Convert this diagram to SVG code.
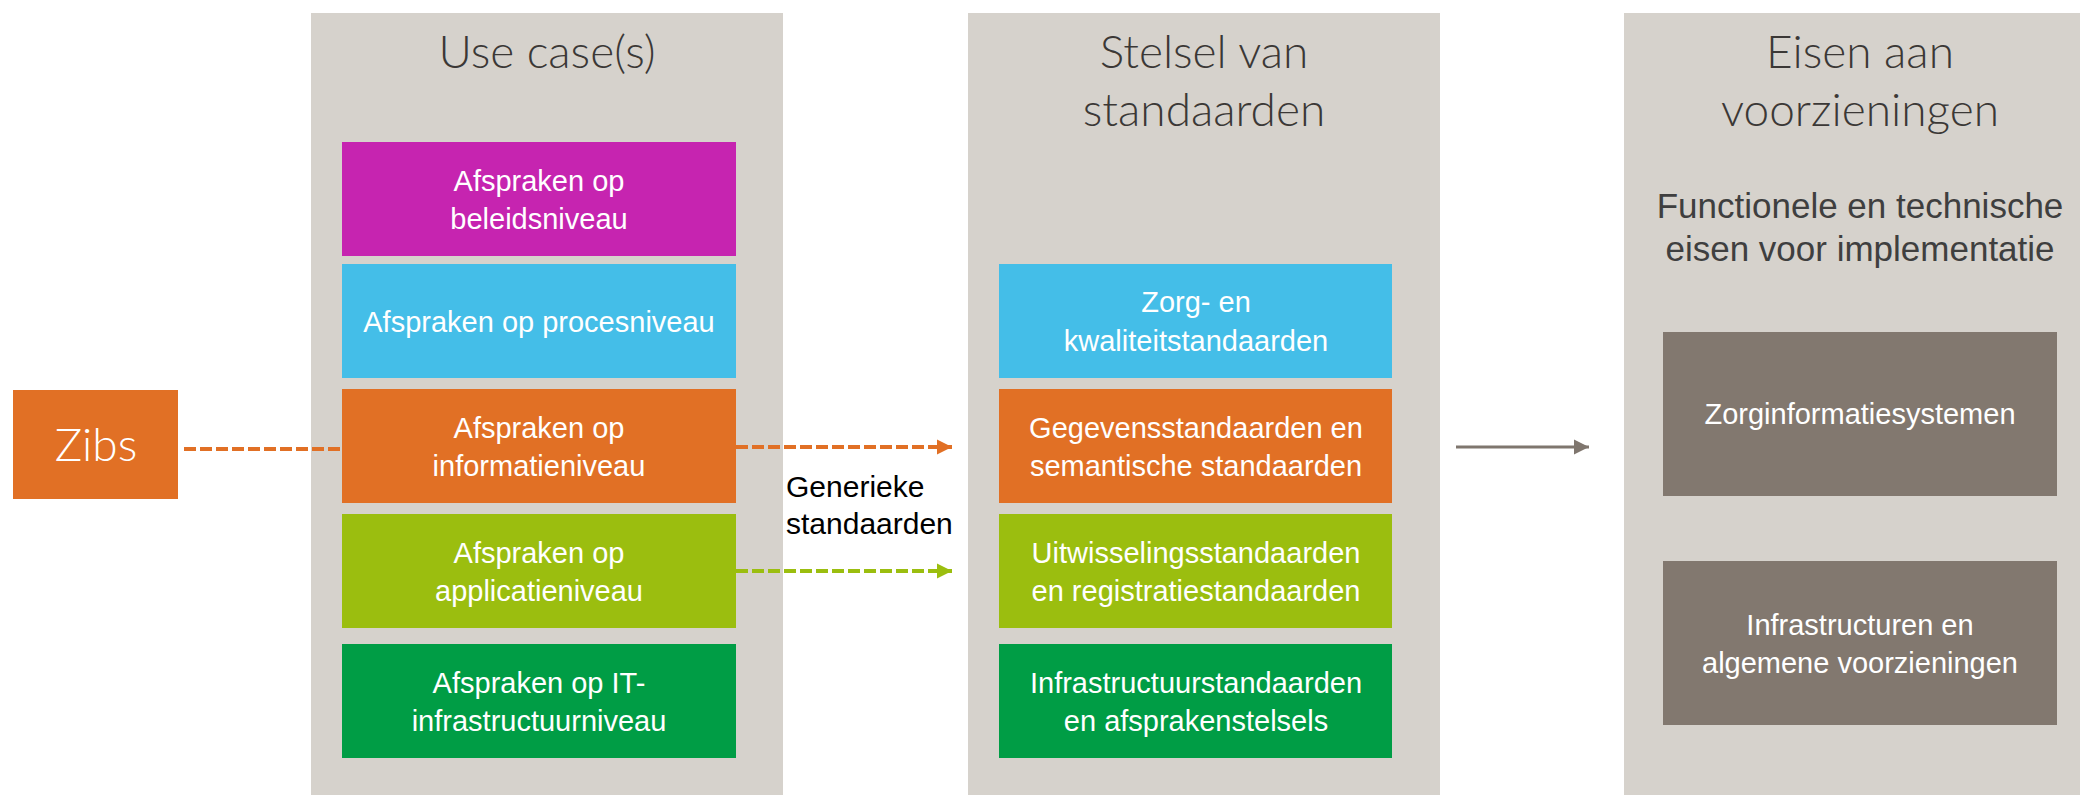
<svg xmlns="http://www.w3.org/2000/svg" width="2080" height="795" viewBox="0 0 2080 795">
<defs>
<style>
.col{fill:#D6D2CC}
.t{font-family:"Liberation Sans",Arial,sans-serif;text-anchor:middle}
.bt{font-size:29px;fill:#FFFFFF}
.hd{font-family:Lato,"Liberation Sans",Arial,sans-serif;font-weight:300;font-size:46px;fill:#3B3836}
.sub{font-size:35px;fill:#3F3F3F}
.lbl{font-family:"Liberation Sans",Arial,sans-serif;font-size:30px;fill:#000000}
.dash{fill:none;stroke-width:4;stroke-dasharray:12 4}
</style>
<marker id="ah-orange" markerWidth="16" markerHeight="16" viewBox="0 0 16 16" refX="15" refY="8" orient="auto" markerUnits="userSpaceOnUse">
<path d="M0,0.5 L15,8 L0,15.5 Z" fill="#E17025"/>
</marker>
<marker id="ah-green" markerWidth="16" markerHeight="16" viewBox="0 0 16 16" refX="15" refY="8" orient="auto" markerUnits="userSpaceOnUse">
<path d="M0,0.5 L15,8 L0,15.5 Z" fill="#9BBE0F"/>
</marker>
<marker id="ah-gray" markerWidth="16" markerHeight="16" viewBox="0 0 16 16" refX="15" refY="8" orient="auto" markerUnits="userSpaceOnUse">
<path d="M0,0.5 L15,8 L0,15.5 Z" fill="#7F766E"/>
</marker>
</defs>
<rect width="2080" height="795" fill="#FFFFFF"/>

<g id="col-usecases">
<rect class="col" x="311" y="13" width="472" height="782"/>
<text class="t hd" x="547" y="68">Use case(s)</text>
</g>
<g id="col-stelsel">
<rect class="col" x="968" y="13" width="472" height="782"/>
<text class="t hd" x="1204" y="68">Stelsel van</text>
<text class="t hd" x="1204" y="126">standaarden</text>
</g>
<g id="col-eisen">
<rect class="col" x="1624" y="13" width="472" height="782"/>
<text class="t hd" x="1860" y="68">Eisen aan</text>
<text class="t hd" x="1860" y="126">voorzieningen</text>
<text class="t sub" x="1860" y="218">Functionele en technische</text>
<text class="t sub" x="1860" y="261">eisen voor implementatie</text>
</g>

<g id="zibs">
<rect x="13" y="390" width="165" height="109" fill="#E17025"/>
<text class="t hd" x="96" y="461" style="fill:#FFFFFF">Zibs</text>
</g>

<g id="uc-beleid">
<rect x="342" y="142" width="394" height="114" fill="#C624B0"/>
<text class="t bt" x="539" y="191">Afspraken op</text>
<text class="t bt" x="539" y="229">beleidsniveau</text>
</g>
<g id="uc-proces">
<rect x="342" y="264" width="394" height="114" fill="#44BEE8"/>
<text class="t bt" x="539" y="332">Afspraken op procesniveau</text>
</g>
<g id="uc-informatie">
<rect x="342" y="389" width="394" height="114" fill="#E17025"/>
<text class="t bt" x="539" y="438">Afspraken op</text>
<text class="t bt" x="539" y="476">informatieniveau</text>
</g>
<g id="uc-applicatie">
<rect x="342" y="514" width="394" height="114" fill="#9BBE0F"/>
<text class="t bt" x="539" y="563">Afspraken op</text>
<text class="t bt" x="539" y="601">applicatieniveau</text>
</g>
<g id="uc-it">
<rect x="342" y="644" width="394" height="114" fill="#009D45"/>
<text class="t bt" x="539" y="693">Afspraken op IT-</text>
<text class="t bt" x="539" y="731">infrastructuurniveau</text>
</g>

<g id="st-zorg">
<rect x="999" y="264" width="393" height="114" fill="#44BEE8"/>
<text class="t bt" x="1196" y="312">Zorg- en</text>
<text class="t bt" x="1196" y="351">kwaliteitstandaarden</text>
</g>
<g id="st-gegevens">
<rect x="999" y="389" width="393" height="114" fill="#E17025"/>
<text class="t bt" x="1196" y="438">Gegevensstandaarden en</text>
<text class="t bt" x="1196" y="476">semantische standaarden</text>
</g>
<g id="st-uitwisseling">
<rect x="999" y="514" width="393" height="114" fill="#9BBE0F"/>
<text class="t bt" x="1196" y="563">Uitwisselingsstandaarden</text>
<text class="t bt" x="1196" y="601">en registratiestandaarden</text>
</g>
<g id="st-infra">
<rect x="999" y="644" width="393" height="114" fill="#009D45"/>
<text class="t bt" x="1196" y="693">Infrastructuurstandaarden</text>
<text class="t bt" x="1196" y="731">en afsprakenstelsels</text>
</g>

<g id="ev-zis">
<rect x="1663" y="332" width="394" height="164" fill="#82786F"/>
<text class="t bt" x="1860" y="424">Zorginformatiesystemen</text>
</g>
<g id="ev-infra">
<rect x="1663" y="561" width="394" height="164" fill="#82786F"/>
<text class="t bt" x="1860" y="635">Infrastructuren en</text>
<text class="t bt" x="1860" y="673">algemene voorzieningen</text>
</g>

<g id="connectors">
<line class="dash" x1="184" y1="449" x2="342" y2="449" stroke="#E17025"/>
<line class="dash" x1="736" y1="447" x2="952" y2="447" stroke="#E17025" marker-end="url(#ah-orange)"/>
<line class="dash" x1="736" y1="571" x2="952" y2="571" stroke="#9BBE0F" marker-end="url(#ah-green)"/>
<line x1="1456" y1="447" x2="1589" y2="447" stroke="#7F766E" stroke-width="3" marker-end="url(#ah-gray)"/>
<text class="lbl" x="786" y="497">Generieke</text>
<text class="lbl" x="786" y="534">standaarden</text>
</g>
</svg>
